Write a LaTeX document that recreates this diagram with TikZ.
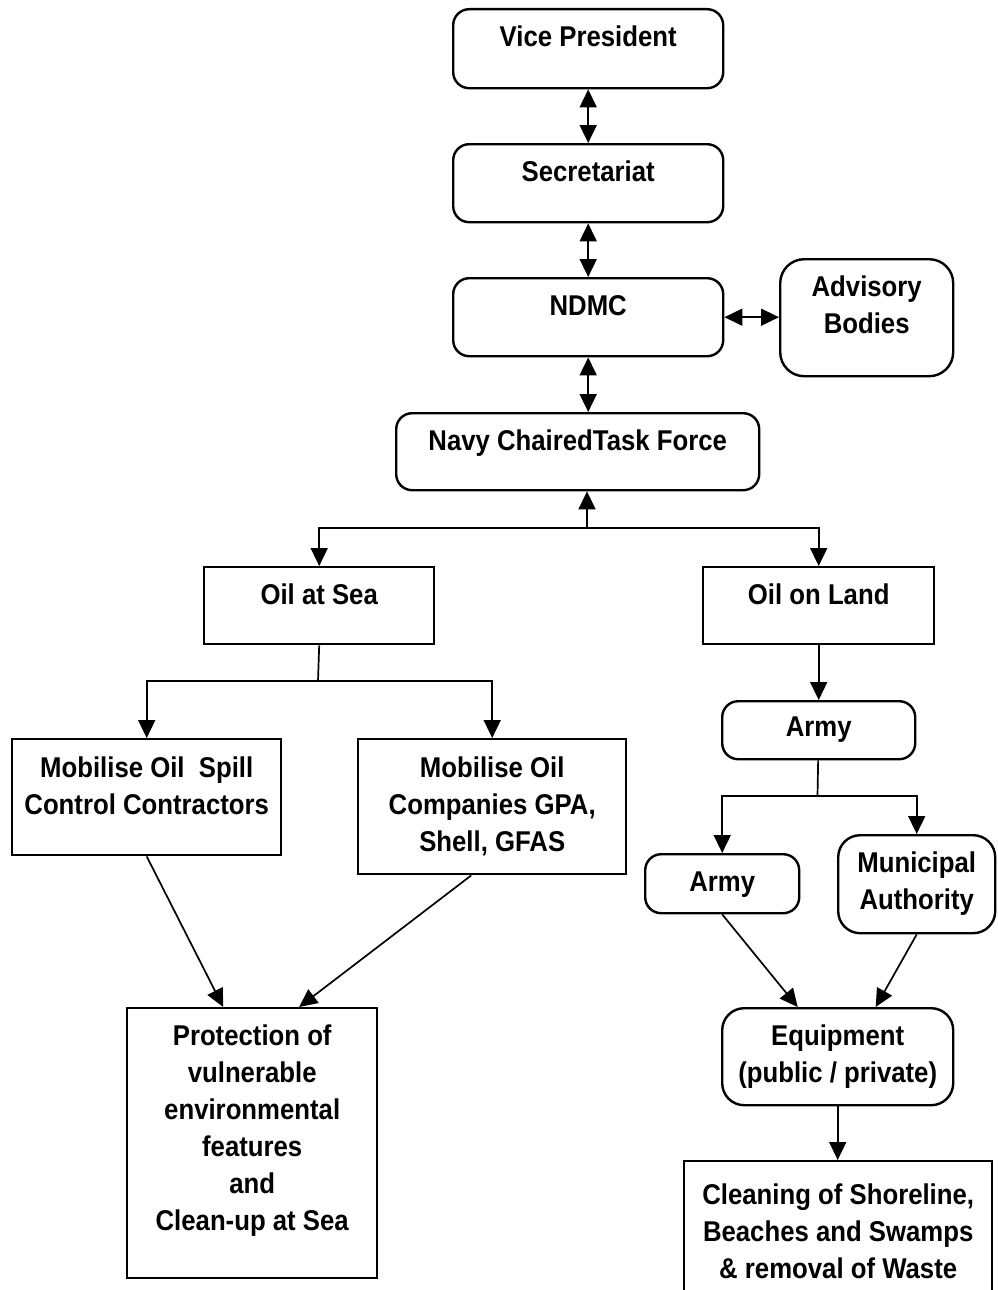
\documentclass[tikz,border=0pt]{standalone}
\usepackage{fontspec}
\setmainfont[FakeStretch=0.9]{Liberation Sans}
\usetikzlibrary{arrows.meta}
\tikzset{
  box/.style={draw, line width=2.4pt, inner sep=0pt, align=flush center, anchor=north west,
    text height=37pt, font=\fontsize{28.6}{37}\selectfont\bfseries},
  rbox/.style={box, rounded corners=16pt},
  link/.style={line width=1.7pt},
  arrow/.style={link, -{Triangle[length=18pt,width=17pt]}},
  biarrow/.style={link, {Triangle[length=18pt,width=17pt]}-{Triangle[length=18pt,width=17pt]}},
}
\begin{document}
\begin{tikzpicture}[x=1pt,y=-1pt]
      \useasboundingbox (0,0) rectangle (997,1290);
      \clip (0,0) rectangle (997,1290);
      \node[rbox, text width=270pt, text depth=42pt] (vp) at (452,8) {Vice President};
      \node[rbox, text width=270pt, text depth=41pt] (sec) at (452,143) {Secretariat};
      \node[rbox, text width=270pt, text depth=41pt] (ndmc) at (452,277) {NDMC};
      \node[rbox, rounded corners=24pt, text width=173pt, text depth=80pt] (adv) at (779,258) {Advisory\\Bodies};
      \node[rbox, text width=363pt, text depth=40pt] (navy) at (395,412) {Navy ChairedTask Force};
      \node[box, text width=230pt, text depth=40pt] (sea) at (203,566) {Oil at Sea};
      \node[box, text width=231pt, text depth=40pt] (land) at (702,566) {Oil on Land};
      \node[box, text width=269pt, text height=38pt, text depth=78pt] (spill) at (11,738) {Mobilise Oil~~Spill\\Control Contractors};
      \node[box, text width=268pt, text height=38pt, text depth=97pt] (comp) at (357,738) {Mobilise Oil\\Companies GPA,\\Shell, GFAS};
      \node[rbox, text width=193pt, text height=35pt, text depth=23pt] (army) at (721,700) {Army};
      \node[rbox, text width=154pt, text depth=22pt] (armyb) at (644,853) {Army};
      \node[rbox, rounded corners=22pt, text width=157pt, text depth=61pt] (muni) at (837,834) {Municipal\\Authority};
      \node[rbox, rounded corners=22pt, text width=231pt, text depth=60pt] (equip) at (721,1007) {Equipment\\(public / private)};
      \node[box, text width=250pt, text depth=233pt] (prot) at (126,1007) {Protection of\\vulnerable\\environmental\\features\\and\\Clean-up at Sea};
      \node[box, text width=308pt, text height=43pt, text depth=120pt] (clean) at (683,1160) {Cleaning of Shoreline,\\Beaches and Swamps\\\& removal of Waste};
      \coordinate (navyfork) at (587,528);
      \coordinate (seafork) at (318,681);
      \coordinate (armyfork) at (817.5,796);
      \begin{scope}[link]
        \draw[biarrow] (vp) -- (sec);
        \draw[biarrow] (sec) -- (ndmc);
        \draw[biarrow] (ndmc.south) -- (ndmc.south |- navy.north);
        \draw[biarrow] (ndmc.east) -- (ndmc.east -| adv.west);
        \draw[arrow] (navyfork) -- (navyfork |- navy.south);
        \draw[arrow] (navyfork) -| (sea.north);
        \draw[arrow] (navyfork) -| (land.north);
        \draw (sea.south) -- (seafork);
        \draw[arrow] (seafork) -| (spill.north);
        \draw[arrow] (seafork) -| (comp.north);
        \draw[arrow] (spill.south) -- ([xshift=-29pt]prot.north);
        \draw[arrow] ([xshift=-21pt]comp.south) -- ([xshift=47pt]prot.north);
        \draw[arrow] (land) -- (army);
        \draw (army) -- (armyfork);
        \draw[arrow] (armyfork) -| (armyb.north);
        \draw[arrow] (armyfork) -| (muni.north);
        \draw[arrow] (armyb.south) -- ([xshift=-40pt]equip.north);
        \draw[arrow] (muni.south) -- ([xshift=38pt]equip.north);
        \draw[arrow] (equip.south) -- (equip.south |- clean.north);
      \end{scope}
    \end{tikzpicture}
\end{document}
